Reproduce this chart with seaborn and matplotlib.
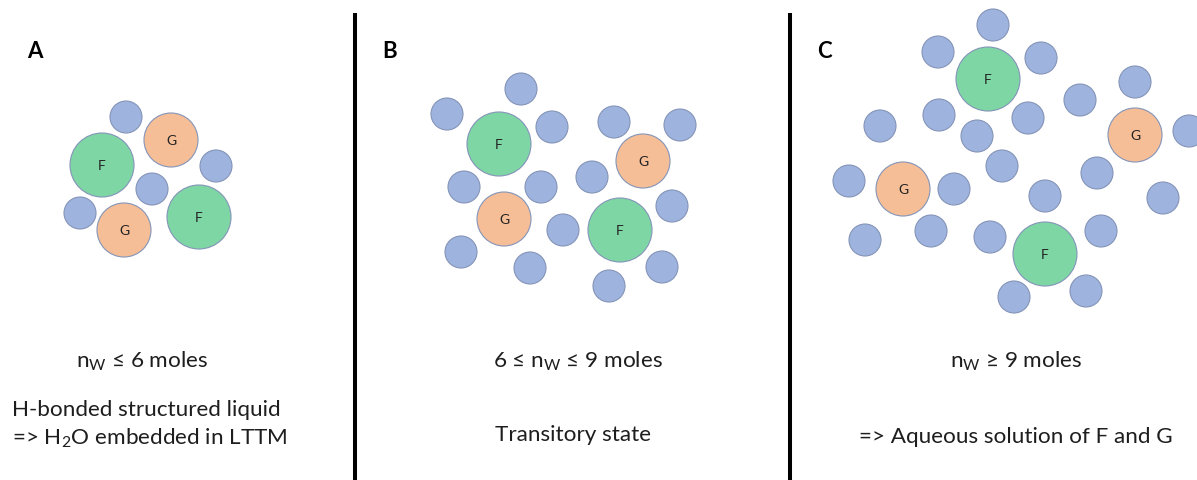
import pandas as pd
import numpy as np
import matplotlib.pyplot as plt
import seaborn as sns

# panel positions (pixels, y from top) and species: W = water, F, G
a_x = [126, 171, 102, 216, 152, 80, 124, 199]
a_y = [118, 141, 166, 167, 190, 214, 231, 218]
a_kind = ['W', 'G', 'F', 'W', 'W', 'W', 'G', 'F']

b_x = [521, 447, 499, 552, 614, 680, 643, 592, 464, 541, 504, 563, 620, 672, 461, 530, 662, 609]
b_y = [90, 115, 145, 128, 123, 126, 162, 178, 188, 188, 220, 231, 231, 207, 253, 269, 268, 287]
b_kind = ['W', 'W', 'F', 'W', 'W', 'W', 'G', 'W', 'W', 'W', 'G', 'W', 'F', 'W', 'W', 'W', 'W', 'W']

c_x = [993, 938, 988, 1041, 1135, 1080, 1135, 1189, 880, 939, 1028, 977, 1002, 1097, 849,
       903, 954, 1045, 1163, 865, 931, 990, 1045, 1101, 1014, 1086]
c_y = [26, 53, 80, 59, 83, 101, 136, 132, 127, 116, 119, 137, 167, 174, 182,
       190, 190, 197, 199, 241, 232, 238, 255, 232, 298, 292]
c_kind = ['W', 'W', 'F', 'W', 'W', 'W', 'G', 'W', 'W', 'W', 'W', 'W', 'W', 'W', 'W',
          'G', 'W', 'W', 'W', 'W', 'W', 'W', 'F', 'W', 'W', 'W']

panel_letters = ['A', 'B', 'C']
line1 = [r'n$\mathregular{_W}$ ≤ 6 moles', r'6 ≤ n$\mathregular{_W}$ ≤ 9 moles', r'n$\mathregular{_W}$ ≥ 9 moles']
line2 = ['H-bonded structured liquid', 'Transitory state', '=> Aqueous solution of F and G']

DPI = 100
radius = {'W': 16, 'F': 32, 'G': 27}
colors = {'W': '#9eb4de', 'F': '#7ed6a4', 'G': '#f5be96'}

df = pd.DataFrame({
    'x': a_x + b_x + c_x,
    'y': a_y + b_y + c_y,
    'kind': a_kind + b_kind + c_kind,
})

sns.set_style('white')
plt.rcParams['font.family'] = ['Lato', 'DejaVu Sans']
plt.rcParams['mathtext.fontset'] = 'custom'
plt.rcParams['mathtext.rm'] = 'Lato'

fig = plt.figure(figsize=(11.97, 4.81), dpi=DPI)
ax = fig.add_axes([0, 0, 1, 1])

sizes = {k: (2 * r * 72 / DPI) ** 2 for k, r in radius.items()}
sns.scatterplot(data=df, x='x', y='y', hue='kind', size='kind', palette=colors,
                sizes=sizes, edgecolor='#8494b8', linewidth=0.8, legend=False, ax=ax)

for _, row in df[df['kind'] != 'W'].iterrows():
    ax.text(row['x'], row['y'], row['kind'], ha='center', va='center', fontsize=10, color='#222222')

ax.set_xlim(0, 1197)
ax.set_ylim(481, 0)
ax.axis('off')

# separators
for xv in [355, 790]:
    ax.plot([xv, xv], [14, 481], color='black', lw=2.9, solid_capstyle='butt')

letter_x = [35, 390, 824]
for lx, lt in zip(letter_x, panel_letters):
    ax.text(lx, 52, lt, ha='center', va='center', fontsize=16, fontweight='bold', color='black')

fs = 16.2
tc = '#1e1e1e'
cx = [142, 578, 1016]
for i in range(3):
    ax.text(cx[i], 361, line1[i], ha='center', va='center', fontsize=fs, color=tc)
ax.text(12, 410, line2[0], ha='left', va='center', fontsize=fs, color=tc)
ax.text(12, 438, r'=> H$\mathregular{_2}$O embedded in LTTM', ha='left', va='center', fontsize=fs, color=tc)
ax.text(573, 435, line2[1], ha='center', va='center', fontsize=fs, color=tc)
ax.text(cx[2], 437, line2[2], ha='center', va='center', fontsize=fs, color=tc)

fig.savefig('out.png', dpi=DPI)
